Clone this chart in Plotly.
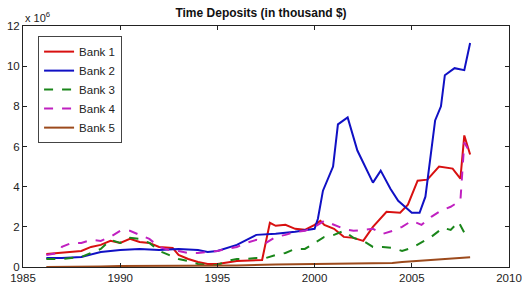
import plotly.graph_objects as go

# ---- data (values in millions of thousand $, i.e. x 10^6) ----
years1 = [1986.2, 1987.0, 1988.0, 1988.5, 1989.0, 1989.5, 1990.0, 1990.5, 1991.0, 1991.5, 1992.0, 1992.7,
          1993.0, 1993.5, 1994.0, 1994.5, 1995.0, 1996.0, 1997.0, 1997.3, 1997.7, 1998.0, 1998.5, 1999.0,
          1999.5, 2000.0, 2000.3, 2000.5, 2001.0, 2001.5, 2002.0, 2002.5, 2003.0, 2003.7, 2004.4, 2004.8,
          2005.3, 2005.8, 2006.4, 2007.1, 2007.5, 2007.7, 2008.0]
bank1 = [0.65, 0.7, 0.8, 1.0, 1.1, 1.3, 1.2, 1.4, 1.25, 1.2, 1.0, 0.95,
         0.6, 0.4, 0.25, 0.15, 0.15, 0.3, 0.35, 0.35, 2.2, 2.05, 2.1, 1.9,
         1.85, 2.1, 2.3, 2.1, 1.9, 1.5, 1.45, 1.3, 2.0, 2.75, 2.7, 3.1,
         4.3, 4.35, 5.0, 4.9, 4.4, 6.55, 5.6]

years2 = [1986.2, 1987.0, 1988.0, 1989.0, 1990.0, 1991.0, 1992.0, 1993.0, 1994.0, 1994.5, 1995.0, 1996.0,
          1997.0, 1998.0, 1999.0, 2000.0, 2000.17, 2000.43, 2000.95, 2001.2, 2001.7, 2002.2, 2003.0, 2003.4,
          2003.9, 2004.3, 2005.0, 2005.4, 2005.7, 2005.9, 2006.2, 2006.5, 2006.7, 2007.2, 2007.7, 2008.0]
bank2 = [0.45, 0.45, 0.5, 0.75, 0.85, 0.9, 0.85, 0.9, 0.85, 0.75, 0.8, 1.1,
         1.6, 1.65, 1.75, 1.9, 2.4, 3.8, 5.0, 7.1, 7.45, 5.8, 4.2, 4.8,
         3.9, 3.3, 2.7, 2.7, 3.5, 5.0, 7.3, 8.0, 9.55, 9.9, 9.8, 11.15]

years3 = [1986.2, 1987.0, 1988.0, 1988.5, 1989.0, 1989.5, 1990.0, 1990.5, 1991.0, 1991.5, 1992.0, 1992.5,
          1993.0, 1993.5, 1994.0, 1994.5, 1995.0, 1995.5, 1996.0, 1996.5, 1997.0, 1997.5, 1998.0, 1998.5,
          1999.0, 1999.5, 2000.0, 2000.5, 2001.0, 2001.5, 2002.0, 2002.5, 2003.0, 2003.5, 2004.0, 2004.5,
          2005.0, 2005.7, 2006.0, 2006.6, 2007.0, 2007.4, 2007.9]
bank3 = [0.4, 0.4, 0.5, 0.7, 0.9, 1.35, 1.2, 1.45, 1.4, 1.2, 0.8, 0.6,
         0.4, 0.3, 0.15, 0.1, 0.1, 0.3, 0.4, 0.4, 0.45, 0.45, 0.6, 0.7,
         0.9, 0.9, 1.2, 1.5, 1.6, 1.8, 1.45, 1.3, 1.0, 1.0, 0.95, 0.8,
         0.95, 1.35, 1.5, 1.95, 1.85, 2.25, 1.35]

years4 = [1986.2, 1986.8, 1987.0, 1987.5, 1988.0, 1988.5, 1989.0, 1989.5, 1990.0, 1990.5, 1991.0, 1991.5,
          1992.0, 1992.5, 1993.0, 1993.5, 1994.0, 1994.5, 1995.0, 1995.5, 1996.0, 1996.5, 1997.0, 1997.5,
          1998.0, 1998.5, 1999.0, 1999.5, 2000.0, 2000.5, 2001.0, 2001.5, 2002.0, 2002.5, 2003.0, 2003.5,
          2004.0, 2004.5, 2005.0, 2005.5, 2006.0, 2006.5, 2007.0, 2007.5, 2007.7, 2008.0]
bank4 = [0.6, 0.7, 1.0, 1.2, 1.2, 1.35, 1.3, 1.5, 1.8, 1.8, 1.6, 1.4,
         1.0, 0.85, 0.8, 0.7, 0.7, 0.75, 0.8, 0.9, 1.0, 1.2, 1.35, 1.2,
         1.5, 1.6, 1.75, 1.8, 2.0, 2.3, 2.1, 1.9, 1.8, 1.85, 1.9, 1.65,
         1.8, 2.0, 2.3, 2.1, 2.5, 2.8, 3.0, 3.3, 6.2, 5.7]

years5 = [1986.2, 1988.0, 1989.0, 1990.0, 1992.0, 1994.0, 1996.0, 1998.0, 2000.0, 2002.0, 2004.0, 2004.5,
          2005.0, 2006.0, 2007.0, 2007.5, 2008.0]
bank5 = [0.0, 0.0, 0.03, 0.05, 0.05, 0.07, 0.08, 0.12, 0.15, 0.15, 0.2, 0.25,
         0.28, 0.35, 0.42, 0.45, 0.48]

x_ticks = [1985, 1990, 1995, 2000, 2005, 2010]
y_ticks = [0, 2, 4, 6, 8, 10, 12]

series = [
    ("Bank 1", years1, bank1, "#d81010", "solid"),
    ("Bank 2", years2, bank2, "#1010c4", "solid"),
    ("Bank 3", years3, bank3, "#1a861a", "dash"),
    ("Bank 4", years4, bank4, "#c020c0", "dash"),
    ("Bank 5", years5, bank5, "#9c4a1c", "solid"),
]

fig = go.Figure()
for name, xs, ys, col, dash in series:
    fig.add_trace(go.Scatter(x=xs, y=ys, name=name, mode="lines",
                             line=dict(color=col, width=2, dash=dash)))

W, H = 522, 292
font = dict(family="Liberation Sans, Arial, sans-serif", size=12, color="#222")
axis_common = dict(showgrid=False, zeroline=False, showline=True, linecolor="#222", linewidth=1,
                   mirror="ticks", ticks="inside", ticklen=4, tickcolor="#222",
                   automargin=False, ticklabeloverflow="allow",
                   tickfont=dict(size=11.5, color="#222"))
fig.update_layout(
    width=W, height=H,
    margin=dict(l=23, r=13, t=26, b=25),
    paper_bgcolor="white", plot_bgcolor="white",
    font=font,
    title=dict(text="<b>Time Deposits (in thousand $)</b>", x=0.5, xanchor="center",
               y=1 - 12.5 / H, yanchor="middle", font=dict(size=12, color="#111"), automargin=False),
    legend=dict(x=0.031, y=0.958, xanchor="left", yanchor="top",
                bgcolor="white", bordercolor="#444", borderwidth=1,
                font=dict(size=11.5), tracegroupgap=0, itemwidth=30),
    xaxis=dict(range=[1985, 2010], tickvals=x_ticks, ticktext=[str(v) for v in x_ticks],
               ticklabelstandoff=0, **axis_common),
    yaxis=dict(range=[0, 12], tickvals=y_ticks, ticktext=[str(v) for v in y_ticks],
               **axis_common),
    annotations=[dict(text="x 10<sup>6</sup>", xref="paper", yref="paper", x=0.0, y=1.0,
                      xanchor="left", yanchor="bottom", showarrow=False,
                      font=dict(size=11, color="#222"))],
)

# remove the browser's default 8px page margin so the figure fills the window exactly
fig.write_html("out.html", config={"displayModeBar": False},
               post_script="document.body.style.margin='0';document.body.style.overflow='hidden';")
